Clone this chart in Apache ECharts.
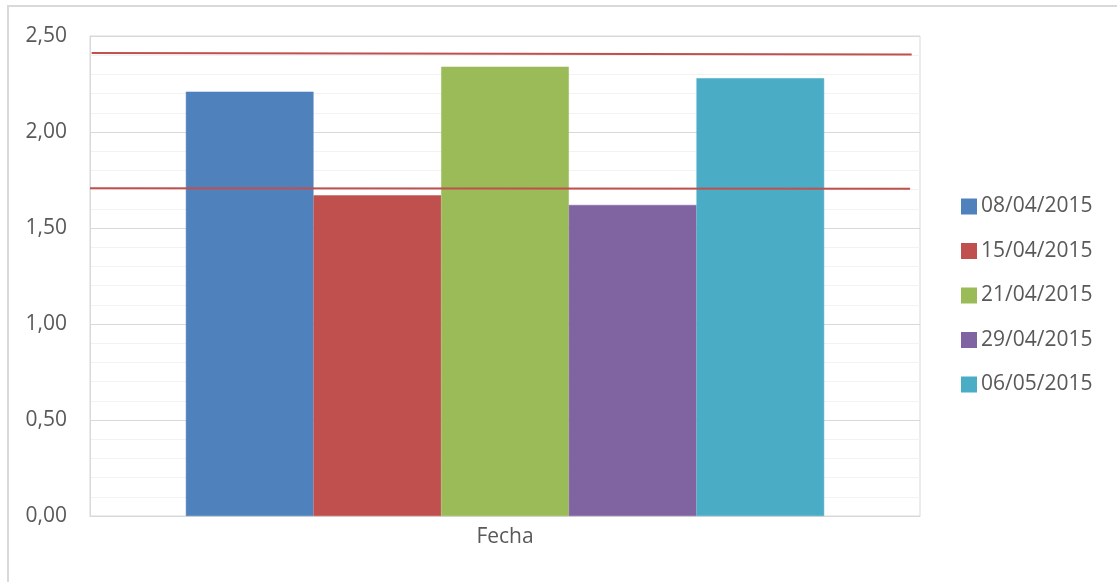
<!DOCTYPE html>
<html>
<head>
<meta charset="utf-8">
<script src="https://cdn.jsdelivr.net/npm/echarts@6/dist/echarts.min.js"></script>
<style>
html,body{margin:0;padding:0;background:#fff;}
#chart{width:1117px;height:582px;}
</style>
</head>
<body>
<div id="chart"></div>
<script>
const categories = ['Fecha'];
const seriesNames = ['08/04/2015', '15/04/2015', '21/04/2015', '29/04/2015', '06/05/2015'];
const seriesValues = [2.21, 1.67, 2.34, 1.62, 2.28];
const seriesColors = ['#4F81BD', '#C0504D', '#9BBB59', '#8064A2', '#4BACC6'];
const upperLine = [[0.002, 2.412], [0.99, 2.403]];
const lowerLine = [[0.0, 1.707], [0.988, 1.705]];
const yTicks = [0, 0.5, 1, 1.5, 2, 2.5];

const chart = echarts.init(document.getElementById('chart'), null, {renderer: 'canvas'});
const font = '"Open Sans", "DejaVu Sans", sans-serif';
const textColor = '#595959';

const series = seriesNames.map((name, i) => ({
  name: name,
  type: 'bar',
  xAxisIndex: 0,
  yAxisIndex: 0,
  barGap: '0%',
  barCategoryGap: '23.1%',
  itemStyle: {color: seriesColors[i], borderColor: seriesColors[i], borderWidth: 0.5},
  data: [seriesValues[i]],
  z: 2
}));
[upperLine, lowerLine].forEach(d => {
  series.push({
    type: 'line',
    xAxisIndex: 1,
    yAxisIndex: 0,
    data: d,
    symbol: 'none',
    silent: true,
    lineStyle: {color: '#C0504D', width: 2},
    z: 5
  });
});

chart.setOption({
  animation: false,
  backgroundColor: '#ffffff',
  textStyle: {fontFamily: font},
  graphic: [{
    type: 'rect',
    shape: {x: 8, y: 6, width: 1300, height: 800},
    style: {fill: 'none', stroke: '#d9d9d9', lineWidth: 2},
    silent: true,
    z: -1
  }],
  grid: {
    left: 90, top: 36, width: 830, height: 480,
    show: true, borderColor: '#d9d9d9', borderWidth: 1, backgroundColor: 'transparent'
  },
  legend: {
    orient: 'vertical',
    left: 956,
    top: 191,
    padding: 5,
    icon: 'rect',
    itemWidth: 14,
    itemHeight: 14,
    itemGap: 23.5,
    data: seriesNames,
    textStyle: {fontFamily: font, fontSize: 21, color: textColor, lineHeight: 21},
    selectedMode: false
  },
  xAxis: [{
    type: 'category',
    data: categories,
    axisLine: {show: true, lineStyle: {color: '#d9d9d9', width: 1}},
    axisTick: {show: false},
    axisLabel: {fontFamily: font, fontSize: 21, color: textColor, margin: 11}
  }, {
    type: 'value',
    min: 0, max: 1,
    show: false
  }],
  yAxis: [{
    type: 'value',
    min: 0, max: 2.5, interval: 0.5,
    axisLine: {show: true, lineStyle: {color: '#d9d9d9', width: 1}},
    axisTick: {show: false},
    axisLabel: {
      fontFamily: font, fontSize: 21, color: textColor, margin: 23,
      formatter: v => v.toFixed(2).replace('.', ',')
    },
    splitLine: {show: true, lineStyle: {color: '#d9d9d9', width: 1}},
    minorTick: {show: false, splitNumber: 5},
    minorSplitLine: {show: true, lineStyle: {color: '#f2f2f2', width: 1}}
  }],
  series: series
});
</script>
</body>
</html>
